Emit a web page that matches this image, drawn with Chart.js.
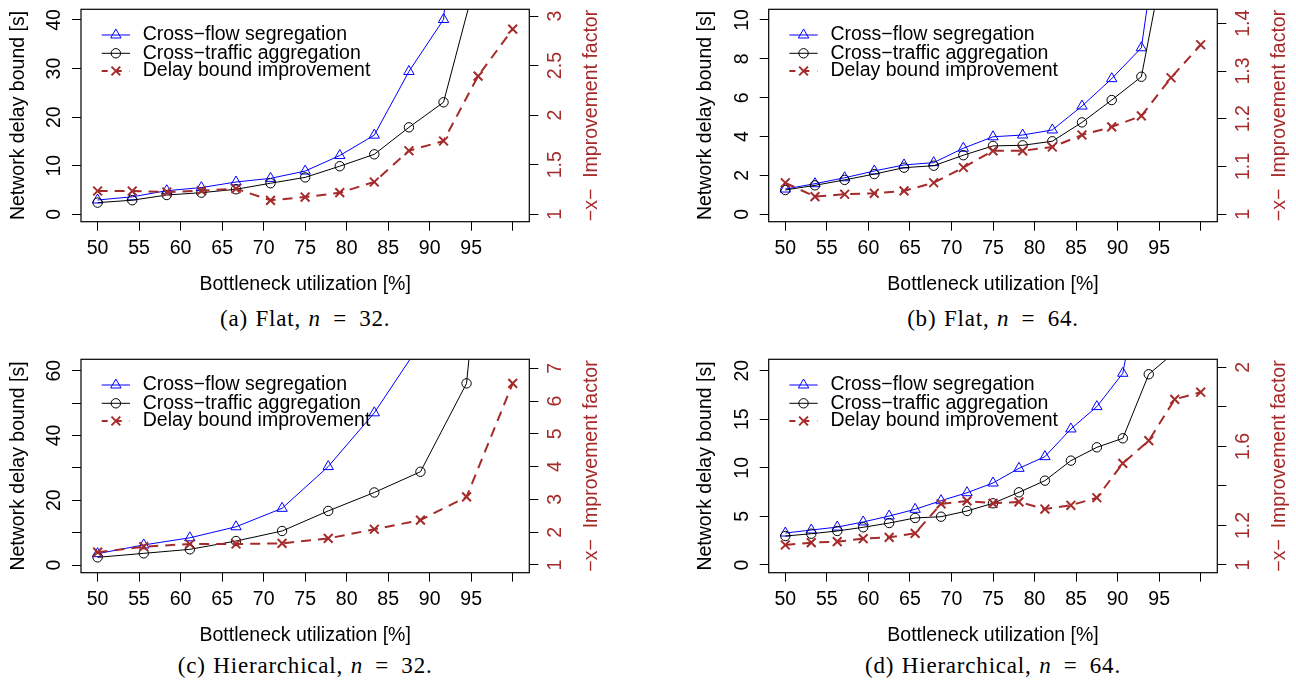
<!DOCTYPE html>
<html><head><meta charset="utf-8">
<script src="https://cdn.jsdelivr.net/npm/chart.js@4.4.1/dist/chart.umd.min.js"></script>
<style>
html,body{margin:0;padding:0;background:#fff;width:1296px;height:684px;overflow:hidden;position:relative;}
canvas{position:absolute;}
.cap{position:absolute;width:500px;font-family:"Liberation Serif","Times New Roman",serif;font-size:23px;line-height:24px;letter-spacing:0.8px;word-spacing:1px;color:#000;text-align:center;white-space:pre;}
</style></head><body>
<canvas id="ca" width="648" height="300" style="left:0px;top:0px"></canvas>
<canvas id="cb" width="648" height="300" style="left:648px;top:0px"></canvas>
<canvas id="cc" width="648" height="300" style="left:0px;top:350px"></canvas>
<canvas id="cd" width="648" height="300" style="left:648px;top:350px"></canvas>
<div class="cap" id="capa"></div>
<div class="cap" id="capb"></div>
<div class="cap" id="capc"></div>
<div class="cap" id="capd"></div>
<script>
// ---------------- data ----------------
const seriesNames = ['Cross\u2212flow segregation', 'Cross\u2212traffic aggregation', 'Delay bound improvement'];
const xTitle = 'Bottleneck utilization [%]';
const yTitle = 'Network delay bound [s]';
const y1Title = '\u2212x\u2212  Improvement factor';
const captionLabels = ['(a) Flat, ', '(b) Flat, ', '(c) Hierarchical, ', '(d) Hierarchical, '];
const captionN = ['32', '64', '32', '64'];

const xTickValues = [50, 55, 60, 65, 70, 75, 80, 85, 90, 95, 100];
const xTickLabels = ['50', '55', '60', '65', '70', '75', '80', '85', '90', '95', ''];

// (a) Flat, n = 32
const utilA = [50, 54.17, 58.33, 62.5, 66.67, 70.83, 75, 79.17, 83.33, 87.5, 91.67, 95.83, 100];
const segA = [2.95, 3.6, 4.86, 5.5, 6.65, 7.4, 8.9, 12.1, 16.3, 29.4, 40.1, 119.7, 430];
const aggA = [2.4, 2.9, 3.97, 4.45, 5.15, 6.4, 7.6, 9.9, 12.35, 17.9, 23.06, 50, 150];
const impA = [1.235, 1.235, 1.225, 1.238, 1.258, 1.141, 1.174, 1.218, 1.326, 1.641, 1.739, 2.394, 2.868];
const yTicksA = [0, 10, 20, 30, 40];
const yLabelsA = ['0', '10', '20', '30', '40'];
const y1TicksA = [1, 1.5, 2, 2.5, 3];
const y1LabelsA = ['1', '1.5', '2', '2.5', '3'];

// (b) Flat, n = 64
const utilB = [50, 53.57, 57.14, 60.71, 64.29, 67.86, 71.43, 75, 78.57, 82.14, 85.71, 89.29, 92.86, 96.43, 100];
const segB = [1.30, 1.575, 1.88, 2.23, 2.54, 2.66, 3.40, 3.99, 4.08, 4.34, 5.57, 6.98, 8.57, 19.3, 54];
const aggB = [1.25, 1.49, 1.77, 2.07, 2.40, 2.50, 3.04, 3.52, 3.55, 3.76, 4.73, 5.88, 7.08, 15, 40];
const impB = [1.066, 1.037, 1.042, 1.044, 1.049, 1.066, 1.098, 1.133, 1.133, 1.141, 1.166, 1.183, 1.206, 1.286, 1.355];
const yTicksB = [0, 2, 4, 6, 8, 10];
const yLabelsB = ['0', '2', '4', '6', '8', '10'];
const y1TicksB = [1, 1.1, 1.2, 1.3, 1.4];
const y1LabelsB = ['1', '1.1', '1.2', '1.3', '1.4'];

// (c) Hierarchical, n = 32
const utilC = [50, 55.56, 61.11, 66.67, 72.22, 77.78, 83.33, 88.89, 94.44, 100];
const segC = [3.5, 6.2, 8.4, 11.8, 17.5, 30.4, 47.0, 68.4, 172.8, 1300];
const aggC = [2.37, 3.6, 4.84, 7.4, 10.5, 16.7, 22.4, 28.8, 56.1, 200];
const impC = [1.39, 1.56, 1.64, 1.64, 1.66, 1.81, 2.09, 2.37, 3.08, 6.54];
const yTicksC = [0, 10, 20, 30, 40, 50, 60];
const yLabelsC = ['0', '', '20', '', '40', '', '60'];
const y1TicksC = [1, 2, 3, 4, 5, 6, 7];
const y1LabelsC = ['1', '2', '3', '4', '5', '6', '7'];

// (d) Hierarchical, n = 64
const utilD = [50, 53.125, 56.25, 59.375, 62.5, 65.625, 68.75, 71.875, 75, 78.125, 81.25, 84.375, 87.5, 90.625, 93.75, 96.875, 100];
const segD = [3.29, 3.6, 3.9, 4.43, 5.04, 5.73, 6.62, 7.44, 8.44, 9.95, 11.15, 14.0, 16.3, 19.73, 34, 40.3, 46.8];
const aggD = [2.98, 3.22, 3.5, 3.88, 4.32, 4.84, 4.97, 5.56, 6.35, 7.48, 8.68, 10.74, 12.11, 13.04, 19.63, 21.9, 25];
const impD = [1.101, 1.113, 1.118, 1.133, 1.14, 1.16, 1.309, 1.324, 1.312, 1.319, 1.283, 1.302, 1.34, 1.514, 1.629, 1.838, 1.874];
const yTicksD = [0, 5, 10, 15, 20];
const yLabelsD = ['0', '5', '10', '15', '20'];
const y1TicksD = [1, 1.2, 1.4, 1.6, 1.8, 2];
const y1LabelsD = ['1', '1.2', '', '1.6', '', '2'];

// ---------------- style / layout ----------------
const RED = '#A52A2A';
const BLUE = '#0000FF';
const FS = 19.5;
const FAMILY = "'Liberation Sans', Arial, Helvetica, sans-serif";
const LH = FS * 1.2;
const W = 648, H = 300;
const TICK = 9;
const YLAB_OFF = 26.5;
const YTITLE_OFF = 62.8;
const Y1TITLE_OFF = 62;
const XLAB_OFF = 27;
const XTITLE_OFF = 63.3;
const LEG = {line0: 20.7, line1: 49, text: 61.7, rows: [25.7, 44, 61.7]};

function measureWidest(labels) {
  const c = document.createElement('canvas').getContext('2d');
  c.font = FS + 'px ' + FAMILY;
  return Math.max(...labels.map(s => c.measureText(s).width));
}

const framePlugin = {
  id: 'frame',
  afterDraw(chart, args, opts) {
    const ctx = chart.ctx, a = chart.chartArea;
    ctx.save();
    ctx.strokeStyle = '#000';
    ctx.lineWidth = 1.2;
    ctx.strokeRect(a.left, a.top, a.right - a.left, a.bottom - a.top);
    // right axis title (reads bottom to top)
    ctx.save();
    ctx.fillStyle = RED;
    ctx.font = FS + 'px ' + FAMILY;
    ctx.translate(a.right + Y1TITLE_OFF, (a.top + a.bottom) / 2);
    ctx.rotate(-Math.PI / 2);
    ctx.textAlign = 'center';
    ctx.textBaseline = 'middle';
    ctx.fillText(y1Title, 0, 0);
    ctx.restore();
    // legend
    chart.data.datasets.forEach((ds, i) => {
      const y = a.top + LEG.rows[i];
      const x0 = a.left + LEG.line0, x1 = a.left + LEG.line1;
      ctx.save();
      ctx.strokeStyle = ds.borderColor;
      ctx.lineWidth = ds.borderWidth;
      ctx.setLineDash(ds.borderDash ? [6, 8] : []);
      ctx.beginPath(); ctx.moveTo(x0, y); ctx.lineTo(x1, y); ctx.stroke();
      ctx.setLineDash([]);
      ctx.strokeStyle = ds.pointBorderColor;
      ctx.fillStyle = 'rgba(0,0,0,0)';
      ctx.lineWidth = ds.pointBorderWidth;
      Chart.helpers.drawPoint(ctx, {pointStyle: ds.pointStyle, radius: ds.pointRadius, borderWidth: ds.pointBorderWidth, rotation: 0}, (x0 + x1) / 2, y);
      ctx.fillStyle = '#000';
      ctx.font = FS + 'px ' + FAMILY;
      ctx.textAlign = 'left';
      ctx.textBaseline = 'middle';
      ctx.fillText(ds.label, a.left + LEG.text, y);
      ctx.restore();
    });
    ctx.restore();
  }
};

function gridOpts() {
  return {display: true, drawOnChartArea: false, drawTicks: true, tickLength: TICK, color: '#000', lineWidth: 1};
}

function makePanel(p) {
  const b = p.box;
  const pts = (xs, ys) => xs.map((v, i) => ({x: v, y: ys[i]}));
  const wL = measureWidest(p.yLabels), wR = measureWidest(p.y1Labels);
  const font = {family: FAMILY, size: FS};
  new Chart(document.getElementById(p.id), {
    type: 'line',
    data: {datasets: [
      {label: seriesNames[0], data: pts(p.x, p.seg), yAxisID: 'y', borderColor: BLUE, borderWidth: 1,
       pointStyle: 'triangle', pointRadius: 6, pointBorderWidth: 1, pointBorderColor: BLUE,
       pointBackgroundColor: 'rgba(0,0,0,0)', order: 3, clip: 0, tension: 0},
      {label: seriesNames[1], data: pts(p.x, p.agg), yAxisID: 'y', borderColor: '#000', borderWidth: 1,
       pointStyle: 'circle', pointRadius: 4.7, pointBorderWidth: 1, pointBorderColor: '#000',
       pointBackgroundColor: 'rgba(0,0,0,0)', order: 2, clip: 0, tension: 0},
      {label: seriesNames[2], data: pts(p.x, p.imp), yAxisID: 'y1', borderColor: RED, borderWidth: 2,
       borderDash: [10, 7], pointStyle: 'crossRot', pointRadius: 6.2, pointBorderWidth: 2, pointBorderColor: RED,
       pointBackgroundColor: 'rgba(0,0,0,0)', order: 1, clip: 0, tension: 0}
    ]},
    options: {
      responsive: false, animation: false, devicePixelRatio: 1,
      layout: {padding: {left: 0, right: 0, top: b.t, bottom: 0}},
      plugins: {legend: {display: false}, tooltip: {enabled: false}},
      scales: {
        x: {
          type: 'linear', position: 'bottom', min: 48, max: 102, bounds: 'data',
          afterBuildTicks: s => { s.ticks = xTickValues.map(v => ({value: v})); },
          afterFit: s => { s.height = H - b.b; s.paddingLeft = 0; s.paddingRight = 0; },
          ticks: {autoSkip: false, minRotation: 0, maxRotation: 0, color: '#000', font,
                  padding: XLAB_OFF - TICK - LH / 2, callback: (v, i) => xTickLabels[i]},
          grid: gridOpts(), border: {display: false},
          title: {display: true, text: xTitle, color: '#000', font,
                  padding: {top: 0, bottom: H - (b.b + XTITLE_OFF) - LH / 2}}
        },
        y: {
          type: 'linear', position: 'left', min: p.yMin, max: p.yMax, bounds: 'data',
          afterBuildTicks: s => { s.ticks = p.yTicks.map(v => ({value: v})); },
          afterFit: s => { s.width = b.l; s.paddingTop = 0; s.paddingBottom = 0; },
          ticks: {autoSkip: false, minRotation: 90, maxRotation: 90, crossAlign: 'center', color: '#000', font,
                  padding: YLAB_OFF - TICK - wL / 2, callback: (v, i) => p.yLabels[i]},
          grid: gridOpts(), border: {display: false},
          title: {display: true, text: yTitle, color: '#000', font,
                  padding: {top: b.l - YTITLE_OFF - LH / 2, bottom: 0}}
        },
        y1: {
          type: 'linear', position: 'right', min: p.y1Min, max: p.y1Max, bounds: 'data',
          afterBuildTicks: s => { s.ticks = p.y1Ticks.map(v => ({value: v})); },
          afterFit: s => { s.width = W - b.r; s.paddingTop = 0; s.paddingBottom = 0; },
          ticks: {autoSkip: false, minRotation: 90, maxRotation: 90, crossAlign: 'center', color: RED, font,
                  padding: YLAB_OFF - TICK - wR / 2, callback: (v, i) => p.y1Labels[i]},
          grid: gridOpts(), border: {display: false}
        }
      }
    },
    plugins: [framePlugin]
  });
}

const panels = [
  {id: 'ca', x: utilA, seg: segA, agg: aggA, imp: impA, yTicks: yTicksA, yLabels: yLabelsA, y1Ticks: y1TicksA, y1Labels: y1LabelsA,
   yMin: -1.523, yMax: 42.2, y1Min: 0.9254, y1Max: 3.0676, box: {l: 81, t: 9.3, r: 529.3, b: 221.7}},
  {id: 'cb', x: utilB, seg: segB, agg: aggB, imp: impB, yTicks: yTicksB, yLabels: yLabelsB, y1Ticks: y1TicksB, y1Labels: y1LabelsB,
   yMin: -0.381, yMax: 10.55, y1Min: 0.9845, y1Max: 1.4293, box: {l: 120.7, t: 9.3, r: 569.3, b: 221.7}},
  {id: 'cc', x: utilC, seg: segC, agg: aggC, imp: impC, yTicks: yTicksC, yLabels: yLabelsC, y1Ticks: y1TicksC, y1Labels: y1LabelsC,
   yMin: -2.378, yMax: 63.53, y1Min: 0.765, y1Max: 7.275, box: {l: 81, t: 9.3, r: 529.3, b: 222.7}},
  {id: 'cd', x: utilD, seg: segD, agg: aggD, imp: impD, yTicks: yTicksD, yLabels: yLabelsD, y1Ticks: y1TicksD, y1Labels: y1LabelsD,
   yMin: -0.793, yMax: 21.17, y1Min: 0.961, y1Max: 2.0405, box: {l: 120.7, t: 9.3, r: 569.3, b: 222.7}}
];
panels.forEach(makePanel);

// captions
const capPos = [[305.2, 318.5], [993, 318.5], [305.2, 665.5], [993, 665.5]];
['capa', 'capb', 'capc', 'capd'].forEach((id, i) => {
  const el = document.getElementById(id);
  el.innerHTML = captionLabels[i] + '<i>n</i>\u2002=\u2002' + captionN[i] + '.';
  el.style.left = (capPos[i][0] - 250) + 'px';
  el.style.top = (capPos[i][1] - 12) + 'px';
});
</script>
</body></html>
